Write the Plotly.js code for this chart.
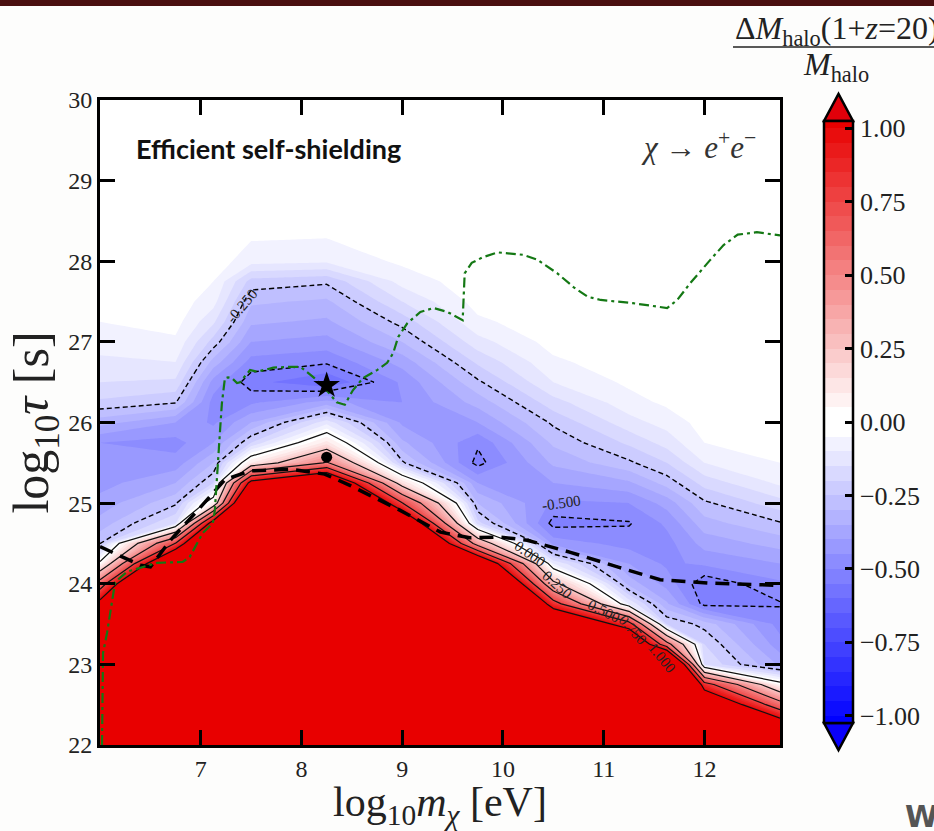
<!DOCTYPE html>
<html><head><meta charset="utf-8">
<script src="https://cdn.plot.ly/plotly-3.0.1.min.js"></script>
<style>html,body{margin:0;padding:0;background:#fdfdfc}</style>
</head><body><div id="chart" style="width:934px;height:831px"></div>
<script>
// ---- grid of the map: log10 m_chi [eV] (columns) and log10 tau [s] (rows)
const massGrid = [6.0, 6.75, 7.125, 7.5, 8.25, 9.0, 9.75, 10.5, 11.25, 11.625, 12.0, 12.75];
const tauGrid = [22, 22.5, 22.75, 23, 23.25, 23.5, 23.75, 24, 24.25, 24.5, 24.75, 25, 25.25, 25.5, 25.75, 26, 26.25, 26.5, 26.75, 27, 27.25, 27.5, 27.75, 28, 28.5, 29, 30];
// dM_halo/M_halo along tauGrid, one list per mass column
const dM_m6_00   = [5.5,4.3,3.6,3.0,2.4,1.75,1.1,0.62,0.03,-0.255,-0.33,-0.38,-0.42,-0.44,-0.45,-0.33,-0.21,-0.15,-0.11,-0.08,-0.05,-0.03,-0.02,-0.01,-0.005,-0.005,-0.005];
const dM_m6_75   = [7.0,5.9,5.3,4.7,4.1,3.5,2.9,2.3,1.6,0.76,-0.15,-0.26,-0.35,-0.43,-0.47,-0.40,-0.245,-0.16,-0.10,-0.06,-0.03,-0.02,-0.01,-0.005,-0.005,-0.005,-0.005];
const dM_m7_125  = [7.8,6.6,6.0,5.4,4.8,4.2,3.6,3.0,2.4,1.8,1.15,0.08,-0.2,-0.30,-0.40,-0.46,-0.47,-0.42,-0.32,-0.22,-0.14,-0.08,-0.05,-0.02,-0.01,-0.005,-0.005];
const dM_m7_50   = [9.0,7.8,7.2,6.6,6.0,5.4,4.8,4.2,3.6,3.0,2.4,1.75,1.1,0.1,-0.2,-0.35,-0.46,-0.53,-0.47,-0.40,-0.34,-0.29,-0.22,-0.08,-0.02,-0.005,-0.005];
const dM_m8_25   = [9.3,8.1,7.5,6.9,6.3,5.7,5.1,4.5,3.9,3.3,2.7,2.1,1.5,0.52,0.12,-0.12,-0.38,-0.60,-0.49,-0.42,-0.36,-0.31,-0.24,-0.09,-0.02,-0.005,-0.005];
const dM_m9_00   = [8.0,6.8,6.2,5.6,5.0,4.4,3.8,3.2,2.6,2.0,1.4,0.76,0.15,-0.24,-0.34,-0.41,-0.45,-0.44,-0.38,-0.30,-0.23,-0.15,-0.08,-0.04,-0.01,-0.005,-0.005];
const dM_m9_75   = [6.8,5.6,5.0,4.4,3.8,3.2,2.6,2.0,1.4,0.4,-0.18,-0.30,-0.40,-0.52,-0.49,-0.40,-0.33,-0.26,-0.19,-0.12,-0.06,-0.03,-0.02,-0.01,-0.005,-0.005,-0.005];
const dM_m10_50  = [5.1,3.9,3.3,2.7,2.1,1.5,0.85,0.3,-0.1,-0.42,-0.52,-0.46,-0.40,-0.34,-0.29,-0.24,-0.17,-0.10,-0.06,-0.03,-0.02,-0.01,-0.005,-0.005,-0.005,-0.005,-0.005];
const dM_m11_25  = [4.5,3.3,2.7,2.1,1.5,0.85,-0.1,-0.32,-0.40,-0.47,-0.505,-0.45,-0.36,-0.26,-0.19,-0.12,-0.07,-0.04,-0.02,-0.01,-0.005,-0.005,-0.005,-0.005,-0.005,-0.005,-0.005];
const dM_m11_625 = [4.4,3.2,2.6,2.0,0.59,-0.2,-0.34,-0.42,-0.46,-0.47,-0.44,-0.38,-0.28,-0.2,-0.13,-0.08,-0.04,-0.02,-0.01,-0.005,-0.005,-0.005,-0.005,-0.005,-0.005,-0.005,-0.005];
const dM_m12_00  = [2.6,1.4,0.85,-0.15,-0.2,-0.27,-0.52,-0.54,-0.44,-0.38,-0.32,-0.26,-0.18,-0.10,-0.05,-0.03,-0.015,-0.005,-0.005,-0.005,-0.005,-0.005,-0.005,-0.005,-0.005,-0.005,-0.005];
const dM_m12_75  = [1.8,0.6,0.05,-0.36,-0.43,-0.47,-0.505,-0.46,-0.40,-0.33,-0.255,-0.17,-0.09,-0.05,-0.03,-0.015,-0.005,-0.005,-0.005,-0.005,-0.005,-0.005,-0.005,-0.005,-0.005,-0.005,-0.005];

// thick dashed curve
const thickM   = [6.0, 6.40, 6.50, 6.70, 6.99, 7.24, 7.49, 7.89, 8.23, 8.48, 8.98, 9.38, 9.67, 9.97, 10.24, 10.67, 11.16, 11.56, 12.03, 12.75];
const thickTau = [24.46, 24.23, 24.21, 24.54, 24.94, 25.29, 25.40, 25.42, 25.36, 25.22, 24.91, 24.64, 24.57, 24.58, 24.54, 24.39, 24.20, 24.05, 24.01, 23.98];

// green dash-dot constraint
const greenM   = [6.02, 6.03, 6.07, 6.13, 6.15, 6.27, 6.40, 6.57, 6.82, 6.89, 7.02, 7.12, 7.14, 7.16, 7.19, 7.21, 7.24, 7.27, 7.31, 7.36, 7.39, 7.49, 7.56, 7.72, 7.86, 7.99, 8.12, 8.25, 8.35, 8.43, 8.51, 8.61, 8.75, 8.85, 8.91, 8.96, 9.05, 9.18, 9.31, 9.45, 9.60, 9.62, 9.69, 9.80, 9.95, 10.20, 10.34, 10.54, 10.70, 10.84, 10.97, 11.29, 11.63, 11.73, 11.86, 12.06, 12.19, 12.33, 12.52, 12.75];
const greenTau = [22.0, 23.14, 23.39, 23.84, 24.02, 24.15, 24.20, 24.26, 24.27, 24.33, 24.63, 24.75, 24.91, 25.25, 25.87, 26.24, 26.55, 26.56, 26.55, 26.49, 26.50, 26.65, 26.63, 26.68, 26.69, 26.69, 26.56, 26.40, 26.25, 26.22, 26.40, 26.55, 26.65, 26.74, 26.86, 27.06, 27.23, 27.37, 27.42, 27.37, 27.27, 27.85, 27.98, 28.05, 28.11, 28.08, 28.02, 27.85, 27.68, 27.56, 27.52, 27.48, 27.42, 27.52, 27.73, 28.02, 28.20, 28.33, 28.36, 28.32];

// markers
const starM = [8.25], starTau = [26.46];
const dotM = [8.25],  dotTau = [25.57];

// colorbar ticks
const cbTickVals = [-1, -0.75, -0.5, -0.25, 0, 0.25, 0.5, 0.75, 1];
const cbTickText = ['\u22121.00','\u22120.75','\u22120.50','\u22120.25','0.00','0.25','0.50','0.75','1.00'];

// contour labels
const lblText  = ['-0.250', '-0.500', '0.000', '0.250', '0.500', '0.750', '1.000'];
const lblM     = [7.41, 10.58, 10.27, 10.54, 11.00, 11.29, 11.58];
const lblTau   = [27.44, 25.00, 24.37, 23.98, 23.66, 23.43, 23.08];
const lblAngle = [-50, -8, 35, 42, 27, 48, 50];

const cols = [dM_m6_00, dM_m6_75, dM_m7_125, dM_m7_50, dM_m8_25, dM_m9_00, dM_m9_75, dM_m10_50, dM_m11_25, dM_m11_625, dM_m12_00, dM_m12_75];
const Z = tauGrid.map((t, j) => cols.map(c => c[j]));

const SERIF = 'Liberation Serif, DejaVu Serif, serif';
const W = 934, H = 831, ML = 100, MR = 154, MT = 100, MB = 86;
const PW = W - ML - MR, PH = H - MT - MB;
const px = x => (x - ML) / PW;
const py = y => (H - MB - y) / PH;

const CB_TOP = 121, CB_BOT = 723;

const traces = [
  {type:'contour', x:massGrid, y:tauGrid, z:Z, hoverinfo:'skip',
   autocontour:false, contours:{start:-1, end:1, size:0.05, coloring:'fill', showlines:false},
   line:{width:0, smoothing:0},
   colorscale:[[0,'rgb(0,0,255)'],[0.4878,'rgb(255,255,255)'],[0.5122,'rgb(255,255,255)'],[1,'rgb(232,0,0)']],
   showscale:true,
   colorbar:{x:px(824), xanchor:'left', xpad:0, y:py((CB_TOP+CB_BOT)/2), yanchor:'middle',
     len:(CB_BOT-CB_TOP)/PH, lenmode:'fraction', ypad:0, thickness:29, thicknessmode:'pixels',
     outlinewidth:2.5, outlinecolor:'#000', ticks:'inside', ticklen:9, tickwidth:3, tickcolor:'#000',
     tickmode:'array', tickvals:cbTickVals, ticktext:cbTickText,
     tickfont:{family:SERIF, size:26, color:'#222'}}},
  {type:'contour', x:massGrid, y:tauGrid, z:Z, hoverinfo:'skip', showscale:false,
   autocontour:false, contours:{start:-0.5, end:-0.25, size:0.25, coloring:'none'},
   line:{color:'#000', width:1.4, dash:'5px,3px', smoothing:0}},
  {type:'contour', x:massGrid, y:tauGrid, z:Z, hoverinfo:'skip', showscale:false,
   autocontour:false, contours:{start:0, end:1, size:0.25, coloring:'none'},
   line:{color:'#111', width:1.2, smoothing:0}},
  {type:'scatter', mode:'lines', x:thickM, y:thickTau, hoverinfo:'skip',
   line:{color:'#000', width:3.5, dash:'14px,8px'}},
  {type:'scatter', mode:'lines', x:greenM, y:greenTau, hoverinfo:'skip',
   line:{color:'rgb(20,120,20)', width:2.2, dash:'10px,4px,3px,4px'}},
  {type:'scatter', mode:'markers', x:starM, y:starTau, hoverinfo:'skip',
   marker:{symbol:'star', size:20, color:'#000'}},
  {type:'scatter', mode:'markers', x:dotM, y:dotTau, hoverinfo:'skip',
   marker:{symbol:'circle', size:11, color:'#000'}}
];

const annotations = lblText.map((t, i) => ({
  x:lblM[i], y:lblTau[i], xref:'x', yref:'y', text:t, showarrow:false,
  textangle:lblAngle[i], font:{family:SERIF, size:15, color:'#222'}
}));
annotations.push(
  {xref:'paper', yref:'paper', x:px(134), y:py(148), xanchor:'left', yanchor:'middle',
   text:'<b>Efficient self-shielding</b>', showarrow:false,
   font:{family:'Lato, Open Sans, sans-serif', size:27, color:'#111'}},
  {xref:'paper', yref:'paper', x:px(758), y:py(146), xanchor:'right', yanchor:'middle',
   text:'<i>χ</i> → <i>e</i><sup>+</sup><i>e</i><sup>−</sup>', showarrow:false,
   font:{family:SERIF, size:31, color:'#333'}},
  {xref:'paper', yref:'paper', x:px(733), y:py(30), xanchor:'left', yanchor:'middle',
   text:'Δ<i>M</i><sub>halo</sub>(1+<i>z</i>=20)', showarrow:false,
   font:{family:SERIF, size:32, color:'#222'}},
  {xref:'paper', yref:'paper', x:px(836), y:py(66), xanchor:'center', yanchor:'middle',
   text:'<i>M</i><sub>halo</sub>', showarrow:false,
   font:{family:SERIF, size:32, color:'#222'}},
  {xref:'paper', yref:'paper', x:px(903), y:py(816), xanchor:'left', yanchor:'middle',
   text:'<b>W</b>', showarrow:false,
   font:{family:'DejaVu Sans, sans-serif', size:30, color:'#555'}}
);

const shapes = [
  {type:'rect', xref:'paper', yref:'paper', x0:px(0), x1:px(W), y0:py(6), y1:py(0),
   fillcolor:'#4a1010', line:{width:0}, layer:'above'},
  {type:'path', xref:'paper', yref:'paper', layer:'above',
   path:`M ${px(824)},${py(CB_TOP)} L ${px(853)},${py(CB_TOP)} L ${px(838.5)},${py(CB_TOP-27)} Z`,
   fillcolor:'rgb(225,0,10)', line:{color:'#000', width:2.5}},
  {type:'path', xref:'paper', yref:'paper', layer:'above',
   path:`M ${px(824)},${py(CB_BOT)} L ${px(853)},${py(CB_BOT)} L ${px(838.5)},${py(CB_BOT+27)} Z`,
   fillcolor:'rgb(10,0,250)', line:{color:'#000', width:2.5}},
  {type:'line', xref:'paper', yref:'paper', x0:px(733), x1:px(940), y0:py(47), y1:py(47),
   line:{color:'#222', width:1.6}}
];

const axisCommon = {showgrid:false, zeroline:false, showline:true, linewidth:3, linecolor:'#000',
  ticks:'inside', ticklen:15, tickwidth:3, tickcolor:'#000', mirror:'ticks',
  tickfont:{family:SERIF, size:24, color:'#222'}};

const layout = {
  width:W, height:H, margin:{l:ML, r:MR, t:MT, b:MB, autoexpand:false},
  paper_bgcolor:'#fdfdfc', plot_bgcolor:'#ffffff', showlegend:false,
  xaxis:Object.assign({}, axisCommon, {range:[6,12.75], tickmode:'array', tickvals:[7,8,9,10,11,12],
    title:{text:'log<sub>10</sub><i>m</i><sub><i>χ</i></sub> [eV]', font:{family:SERIF, size:42, color:'#222'}, standoff:4}}),
  yaxis:Object.assign({}, axisCommon, {range:[22,30], tickmode:'array', tickvals:[22,23,24,25,26,27,28,29,30],
    title:{text:'log<sub>10</sub><i>τ</i> [s]', font:{family:SERIF, size:50, color:'#222'}, standoff:4}}),
  annotations, shapes
};

Plotly.newPlot('chart', traces, layout, {displayModeBar:false, staticPlot:true});
</script></body></html>
